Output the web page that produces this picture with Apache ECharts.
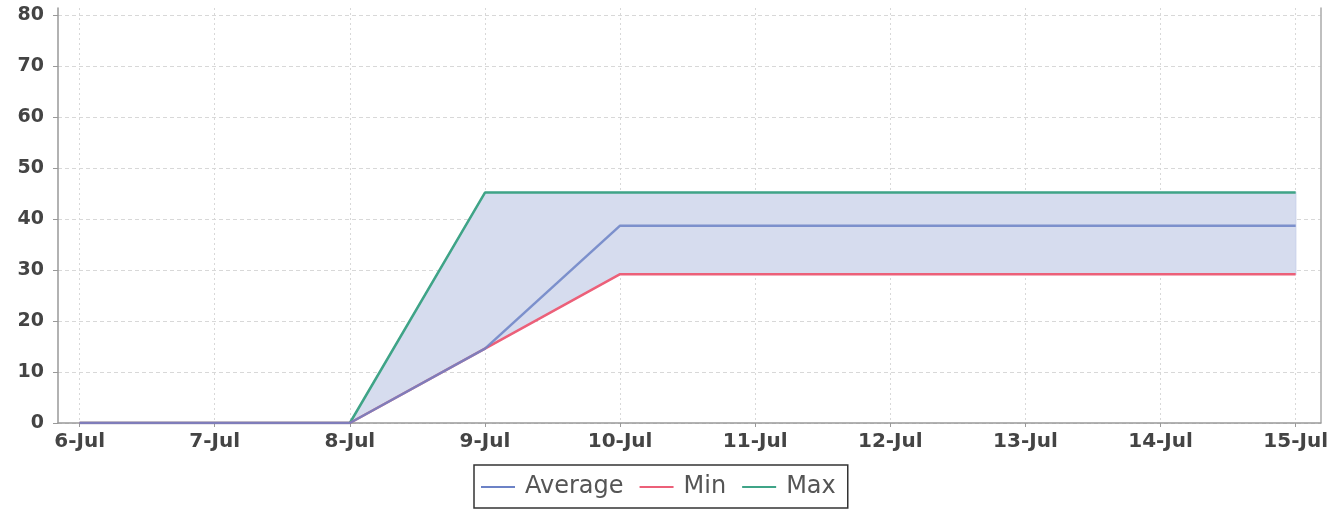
<!DOCTYPE html>
<html><head><meta charset="utf-8">
<script src="https://cdn.jsdelivr.net/npm/echarts@6/dist/echarts.min.js"></script>
<style>html,body{margin:0;padding:0;background:#fff}#c{width:1331px;height:510px}</style>
</head><body><div id="c"></div>
<script>
const categories = ['6-Jul','7-Jul','8-Jul','9-Jul','10-Jul','11-Jul','12-Jul','13-Jul','14-Jul','15-Jul'];
const averageValues = [0, 0, 0, 14.6, 38.7, 38.7, 38.7, 38.7, 38.7, 38.7];
const minValues     = [0, 0, 0, 14.6, 29.2, 29.2, 29.2, 29.2, 29.2, 29.2];
const maxValues     = [0, 0, 0, 45.2, 45.2, 45.2, 45.2, 45.2, 45.2, 45.2];
const yTicks = [0, 10, 20, 30, 40, 50, 60, 70, 80];
const seriesNames = ['Average', 'Min', 'Max'];

const xIdx = categories.map((_, i) => i);
const pts = arr => arr.map((v, i) => [i, v]);
const bandData = xIdx.map(i => [i, minValues[i], maxValues[i]]);

const axisFont = { fontFamily: 'DejaVu Sans', fontWeight: 'bold', color: '#444' };
const chart = echarts.init(document.getElementById('c'), null, { renderer: 'canvas' });
chart.setOption({
  animation: false,
  backgroundColor: '#fff',
  grid: { left: 58, right: 9, top: 8, bottom: 87, containLabel: false },
  legend: {
    data: seriesNames,
    left: 474, top: 465,
    padding: [10, 12, 9, 7],
    itemGap: 16,
    itemWidth: 34, itemHeight: 2,
    icon: 'rect',
    borderColor: '#333', borderWidth: 1.5, borderRadius: 0,
    textStyle: { fontFamily: 'DejaVu Sans', fontSize: 24, color: '#555', padding: [2, 0, 0, 5] }
  },
  xAxis: {
    type: 'value', min: -0.16, max: 9.185,
    axisLine: { show: true, onZero: false, lineStyle: { color: '#999', width: 1.5 } },
    axisTick: { show: true, customValues: xIdx, length: 4, lineStyle: { color: '#999' } },
    axisLabel: { customValues: xIdx, formatter: v => categories[Math.round(v)], fontSize: 20, margin: 9, ...axisFont },
    splitLine: { show: true, lineStyle: { color: '#d8d8d8', type: [2, 3], width: 1 } }
  },
  yAxis: [{
    type: 'value', min: 0, max: 81.4,
    axisLine: { show: true, onZero: false, lineStyle: { color: '#999', width: 1.5 } },
    axisTick: { show: true, customValues: yTicks, length: 5, lineStyle: { color: '#999' } },
    axisLabel: { customValues: yTicks, fontSize: 19, margin: 14, ...axisFont },
    splitLine: { show: true, lineStyle: { color: '#d8d8d8', type: [4, 3], width: 1 } }
  }, {
    type: 'value', min: 0, max: 81.4, position: 'right',
    axisLine: { show: true, onZero: false, lineStyle: { color: '#aaa', width: 1.5 } },
    axisTick: { show: false }, axisLabel: { show: false }, splitLine: { show: false }
  }],
  series: [
    { name: 'band', type: 'custom', data: bandData, encode: { x: 0, y: [1, 2] }, silent: true, z: 1,
      renderItem: (params, api) => {
        if (params.dataIndex !== 0) return null;
        const upper = bandData.map(d => api.coord([d[0], d[2]]));
        const lower = bandData.map(d => api.coord([d[0], d[1]])).reverse();
        return { type: 'polygon', shape: { points: upper.concat(lower) },
                 style: { fill: '#d6dcee', stroke: '#cfd6ec', lineWidth: 1.5 } };
      } },
    { name: 'Max', type: 'line', data: pts(maxValues), symbol: 'none', color: '#3fa487',
      lineStyle: { width: 2.5, color: '#3fa487' }, z: 3 },
    { name: 'Min', type: 'line', data: pts(minValues), symbol: 'none', color: '#ec6079',
      lineStyle: { width: 2.5, color: '#ec6079' }, z: 4 },
    { name: 'Average', type: 'line', data: pts(averageValues), symbol: 'none', color: '#6c82c6',
      lineStyle: { width: 2.5, color: '#6c82c6', opacity: 0.85 }, z: 5 }
  ]
});
</script></body></html>
